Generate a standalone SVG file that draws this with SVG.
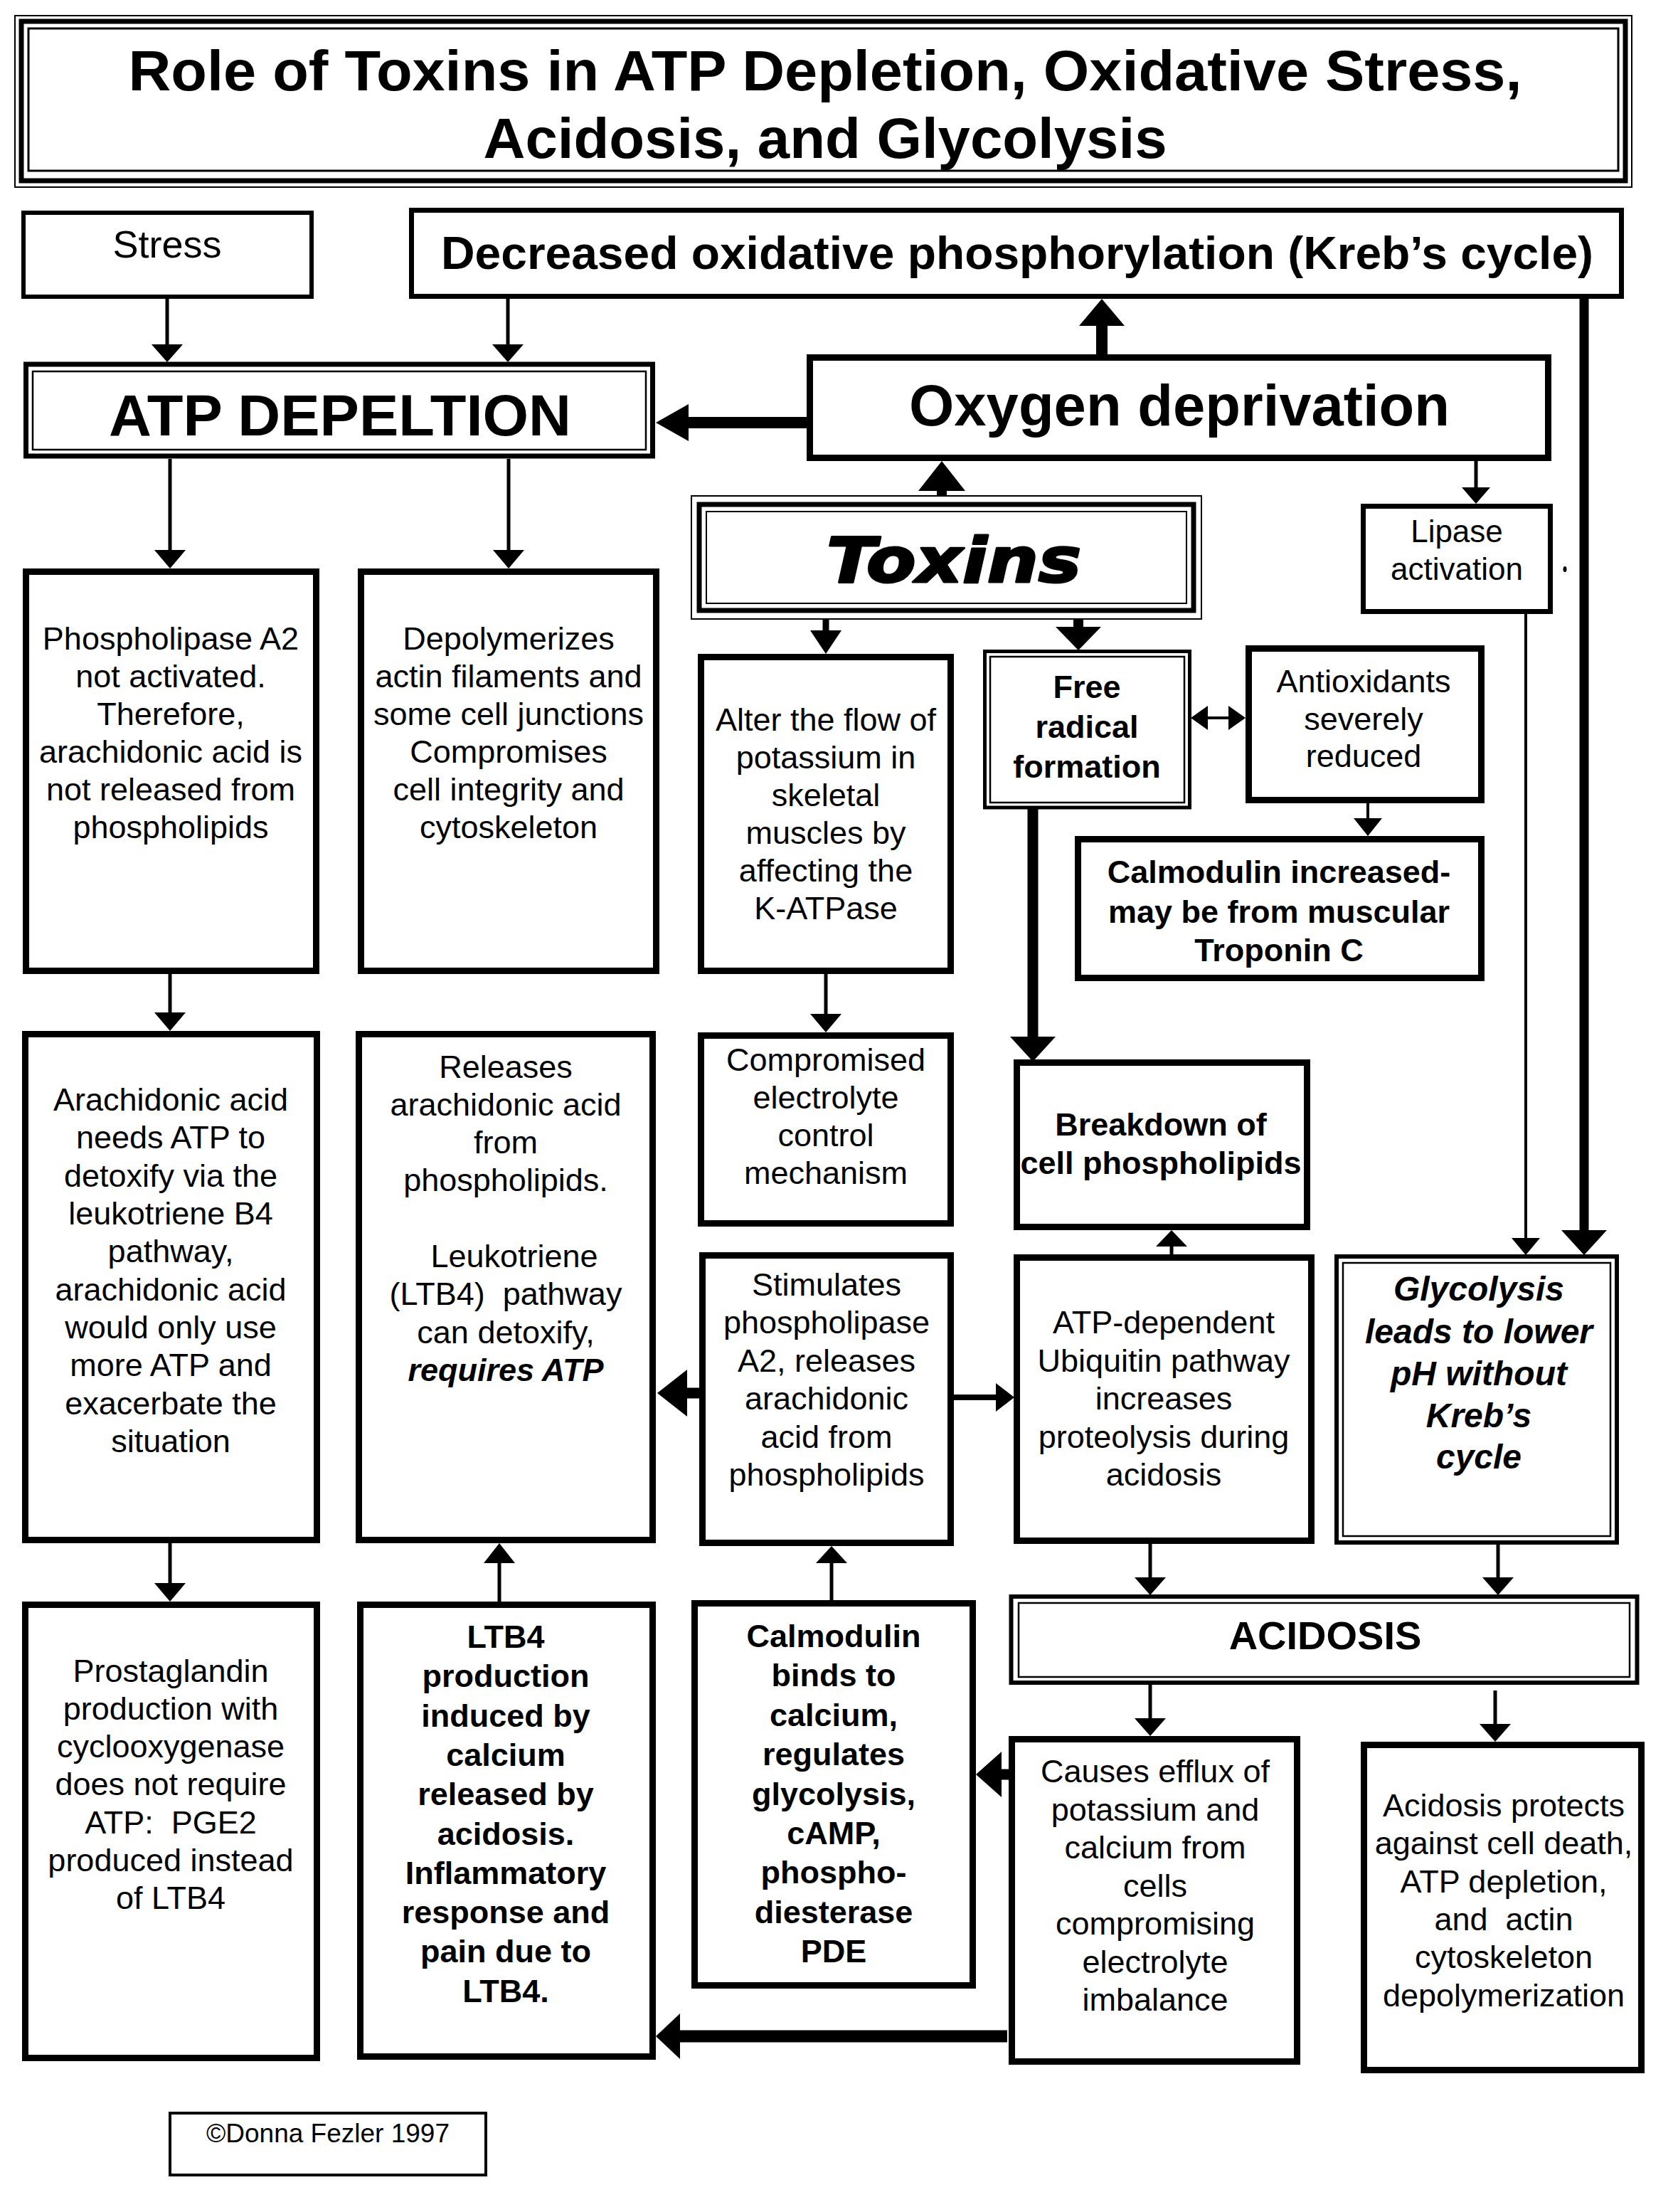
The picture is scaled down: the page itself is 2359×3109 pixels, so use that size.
<svg xmlns="http://www.w3.org/2000/svg" width="2359" height="3109" viewBox="0 0 2359 3109">
<style>
.bg{fill:#fff}
.box{fill:#fff;stroke:#000;stroke-width:9}
.thin{fill:none;stroke:#000;stroke-width:2.5}
.t{font-family:"Liberation Sans",Arial,sans-serif;font-size:45px;text-anchor:middle;fill:#000}
.b{font-weight:bold}
.i{font-style:italic}
.ln{stroke:#000;fill:none;stroke-width:5}
.hd{fill:#000;stroke:none}
</style>
<rect class="bg" x="0" y="0" width="2359" height="3109"/>

<g id="title">
<rect x="21" y="22" width="2273" height="241" fill="#fff" stroke="#000" stroke-width="2"/>
<rect x="30" y="30" width="2255" height="224" fill="none" stroke="#000" stroke-width="7"/>
<rect x="40" y="40" width="2235" height="200" fill="none" stroke="#000" stroke-width="3"/>
<text class="t b" style="font-size:80px"><tspan x="1160" y="127" textLength="1959" lengthAdjust="spacingAndGlyphs">Role of Toxins in ATP Depletion, Oxidative Stress,</tspan><tspan x="1160" y="222" textLength="961" lengthAdjust="spacingAndGlyphs">Acidosis, and Glycolysis</tspan></text>
</g>

<g id="stress">
<rect class="box" style="stroke-width:6" x="33" y="299" width="405" height="118"/>
<text class="t" style="font-size:54px" x="235" y="362">Stress</text>
</g>

<g id="decreased">
<rect class="box" style="stroke-width:7" x="578.5" y="295.5" width="1701" height="121"/>
<text class="t b" style="font-size:65px" x="1430" y="378" textLength="1620" lengthAdjust="spacingAndGlyphs">Decreased oxidative phosphorylation (Kreb’s cycle)</text>
</g>

<g id="atp-depletion">
<rect x="36.5" y="512" width="881" height="129" fill="#fff" stroke="#000" stroke-width="7"/>
<rect class="thin" x="46" y="522" width="862" height="110"/>
<text class="t b" style="font-size:81px" x="478" y="612" textLength="650" lengthAdjust="spacingAndGlyphs">ATP DEPELTION</text>
</g>

<g id="oxygen">
<rect class="box" x="1138.5" y="502.5" width="1038" height="141"/>
<text class="t b" style="font-size:81px" x="1658" y="598" textLength="760" lengthAdjust="spacingAndGlyphs">Oxygen deprivation</text>
</g>

<g id="toxins">
<rect x="972" y="697" width="717" height="173" fill="#fff" stroke="#000" stroke-width="2"/>
<rect x="983" y="709" width="695" height="149" fill="none" stroke="#000" stroke-width="7"/>
<rect x="993" y="719" width="675" height="129" fill="none" stroke="#000" stroke-width="2"/>
<text class="b i" style="font-family:'DejaVu Sans',Verdana,sans-serif;font-size:88px;stroke:#000;stroke-width:3;stroke-linejoin:round" x="1162" y="818" textLength="358" lengthAdjust="spacingAndGlyphs">Toxins</text>
</g>

<g id="lipase">
<rect class="box" style="stroke-width:7" x="1916.5" y="711.5" width="263" height="148"/>
<text class="t" style="font-size:44px"><tspan x="2048" y="762">Lipase</tspan><tspan x="2048" y="815">activation</tspan></text>
</g>
<ellipse cx="2200" cy="800" rx="2.5" ry="4" fill="#000"/>

<g id="phospholipase">
<rect class="box" x="36.5" y="803.5" width="408" height="561"/>
<text class="t"><tspan x="240" y="913">Phospholipase A2</tspan><tspan x="240" y="966">not activated.</tspan><tspan x="240" y="1019">Therefore,</tspan><tspan x="240" y="1072">arachidonic acid is</tspan><tspan x="240" y="1125">not released from</tspan><tspan x="240" y="1178">phospholipids</tspan></text>
</g>

<g id="depolymerizes">
<rect class="box" x="507.5" y="803.5" width="415" height="561"/>
<text class="t"><tspan x="715" y="913">Depolymerizes</tspan><tspan x="715" y="966">actin filaments and</tspan><tspan x="715" y="1019">some cell junctions</tspan><tspan x="715" y="1072">Compromises</tspan><tspan x="715" y="1125">cell integrity and</tspan><tspan x="715" y="1178">cytoskeleton</tspan></text>
</g>

<g id="alter">
<rect class="box" x="985.5" y="923.5" width="351" height="441"/>
<text class="t"><tspan x="1161" y="1027">Alter the flow of</tspan><tspan x="1161" y="1080">potassium in</tspan><tspan x="1161" y="1133">skeletal</tspan><tspan x="1161" y="1186">muscles by</tspan><tspan x="1161" y="1239">affecting the</tspan><tspan x="1161" y="1292">K-ATPase</tspan></text>
</g>

<g id="free-radical">
<rect x="1384.5" y="915.5" width="288" height="219.5" fill="#fff" stroke="#000" stroke-width="5"/>
<rect class="thin" x="1392" y="923" width="273" height="205"/>
<text class="t b"><tspan x="1528" y="981">Free</tspan><tspan x="1528" y="1037">radical</tspan><tspan x="1528" y="1093">formation</tspan></text>
</g>

<g id="antioxidants">
<rect class="box" x="1755.5" y="911.5" width="327" height="213"/>
<text class="t"><tspan x="1917" y="973">Antioxidants</tspan><tspan x="1917" y="1026">severely</tspan><tspan x="1917" y="1078">reduced</tspan></text>
</g>

<g id="calmodulin-increased">
<rect class="box" x="1515.5" y="1179.5" width="567" height="195"/>
<text class="t b"><tspan x="1798" y="1241">Calmodulin increased-</tspan><tspan x="1798" y="1297">may be from muscular</tspan><tspan x="1798" y="1351">Troponin C</tspan></text>
</g>

<g id="arachidonic">
<rect class="box" x="35.5" y="1453.5" width="410" height="711"/>
<text class="t"><tspan x="240" y="1561">Arachidonic acid</tspan><tspan x="240" y="1614">needs ATP to</tspan><tspan x="240" y="1668">detoxify via the</tspan><tspan x="240" y="1721">leukotriene B4</tspan><tspan x="240" y="1774">pathway,</tspan><tspan x="240" y="1828">arachidonic acid</tspan><tspan x="240" y="1881">would only use</tspan><tspan x="240" y="1934">more ATP and</tspan><tspan x="240" y="1988">exacerbate the</tspan><tspan x="240" y="2041">situation</tspan></text>
</g>

<g id="releases">
<rect class="box" x="504.5" y="1453.5" width="413" height="711"/>
<text class="t" xml:space="preserve"><tspan x="711" y="1515">Releases</tspan><tspan x="711" y="1568">arachidonic acid</tspan><tspan x="711" y="1621">from</tspan><tspan x="711" y="1674">phospholipids.</tspan><tspan x="723" y="1781">Leukotriene</tspan><tspan x="711" y="1834">(LTB4)  pathway</tspan><tspan x="711" y="1888">can detoxify,</tspan><tspan x="711" y="1941" font-weight="bold" font-style="italic">requires ATP</tspan></text>
</g>

<g id="compromised">
<rect class="box" x="985.5" y="1455.5" width="351" height="264"/>
<text class="t"><tspan x="1161" y="1505">Compromised</tspan><tspan x="1161" y="1558">electrolyte</tspan><tspan x="1161" y="1611">control</tspan><tspan x="1161" y="1664">mechanism</tspan></text>
</g>

<g id="breakdown">
<rect class="box" x="1429.5" y="1493.5" width="408" height="231"/>
<text class="t b"><tspan x="1632" y="1596">Breakdown of</tspan><tspan x="1632" y="1650">cell phospholipids</tspan></text>
</g>

<g id="stimulates">
<rect class="box" x="987.5" y="1764.5" width="349" height="404"/>
<text class="t"><tspan x="1162" y="1821">Stimulates</tspan><tspan x="1162" y="1874">phospholipase</tspan><tspan x="1162" y="1928">A2, releases</tspan><tspan x="1162" y="1981">arachidonic</tspan><tspan x="1162" y="2035">acid from</tspan><tspan x="1162" y="2088">phospholipids</tspan></text>
</g>

<g id="atp-dependent">
<rect class="box" x="1429.5" y="1767.5" width="414" height="398"/>
<text class="t"><tspan x="1636" y="1874">ATP-dependent</tspan><tspan x="1636" y="1928">Ubiquitin pathway</tspan><tspan x="1636" y="1981">increases</tspan><tspan x="1636" y="2035">proteolysis during</tspan><tspan x="1636" y="2088">acidosis</tspan></text>
</g>

<g id="glycolysis">
<rect x="1879" y="1766" width="394" height="402" fill="#fff" stroke="#000" stroke-width="6"/>
<rect class="thin" x="1888" y="1775" width="376" height="384"/>
<text class="t b i" style="font-size:48px"><tspan x="2079" y="1828">Glycolysis</tspan><tspan x="2079" y="1888">leads to lower</tspan><tspan x="2079" y="1947">pH without</tspan><tspan x="2079" y="2006">Kreb’s</tspan><tspan x="2079" y="2064">cycle</tspan></text>
</g>

<g id="prostaglandin">
<rect class="box" x="35.5" y="2255.5" width="410" height="637"/>
<text class="t" xml:space="preserve"><tspan x="240" y="2364">Prostaglandin</tspan><tspan x="240" y="2417">production with</tspan><tspan x="240" y="2470">cyclooxygenase</tspan><tspan x="240" y="2523">does not require</tspan><tspan x="240" y="2577">ATP:  PGE2</tspan><tspan x="240" y="2630">produced instead</tspan><tspan x="240" y="2683">of LTB4</tspan></text>
</g>

<g id="ltb4">
<rect class="box" x="506.5" y="2255.5" width="411" height="635"/>
<text class="t b"><tspan x="711" y="2316">LTB4</tspan><tspan x="711" y="2371">production</tspan><tspan x="711" y="2427">induced by</tspan><tspan x="711" y="2482">calcium</tspan><tspan x="711" y="2537">released by</tspan><tspan x="711" y="2593">acidosis.</tspan><tspan x="711" y="2648">Inflammatory</tspan><tspan x="711" y="2703">response and</tspan><tspan x="711" y="2758">pain due to</tspan><tspan x="711" y="2814">LTB4.</tspan></text>
</g>

<g id="calmodulin-binds">
<rect class="box" x="976.5" y="2253.5" width="391" height="537"/>
<text class="t b"><tspan x="1172" y="2315">Calmodulin</tspan><tspan x="1172" y="2370">binds to</tspan><tspan x="1172" y="2426">calcium,</tspan><tspan x="1172" y="2481">regulates</tspan><tspan x="1172" y="2537">glycolysis,</tspan><tspan x="1172" y="2592">cAMP,</tspan><tspan x="1172" y="2647">phospho-</tspan><tspan x="1172" y="2703">diesterase</tspan><tspan x="1172" y="2758">PDE</tspan></text>
</g>

<g id="acidosis">
<rect x="1421.5" y="2244" width="880" height="121" fill="#fff" stroke="#000" stroke-width="6"/>
<rect class="thin" x="1432" y="2253" width="859" height="104"/>
<text class="t b" style="font-size:56px" x="1863" y="2318">ACIDOSIS</text>
</g>

<g id="causes">
<rect class="box" x="1422.5" y="2444.5" width="401" height="453"/>
<text class="t"><tspan x="1624" y="2505">Causes efflux of</tspan><tspan x="1624" y="2559">potassium and</tspan><tspan x="1624" y="2612">calcium from</tspan><tspan x="1624" y="2666">cells</tspan><tspan x="1624" y="2719">compromising</tspan><tspan x="1624" y="2773">electrolyte</tspan><tspan x="1624" y="2826">imbalance</tspan></text>
</g>

<g id="acidosis-protects">
<rect class="box" x="1917.5" y="2452.5" width="390" height="457"/>
<text class="t" xml:space="preserve"><tspan x="2114" y="2553">Acidosis protects</tspan><tspan x="2114" y="2606">against cell death,</tspan><tspan x="2114" y="2660">ATP depletion,</tspan><tspan x="2114" y="2713">and  actin</tspan><tspan x="2114" y="2766">cytoskeleton</tspan><tspan x="2114" y="2820">depolymerization</tspan></text>
</g>

<g id="copyright">
<rect class="box" style="stroke-width:4" x="239" y="2970" width="444" height="87"/>
<text class="t" style="font-size:37px" x="461" y="3011">©Donna Fezler 1997</text>
</g>

<g id="connectors">
<line class="ln" x1="235" y1="420" x2="235" y2="488"/>
<polygon class="hd" points="213,484 257,484 235,509"/>
<line class="ln" x1="714" y1="420" x2="714" y2="488"/>
<polygon class="hd" points="692,484 736,484 714,509"/>
<line class="ln" style="stroke-width:16" x1="1136" y1="594" x2="960" y2="594"/>
<polygon class="hd" points="968,568 968,620 922,594"/>
<line class="ln" style="stroke-width:16" x1="1549" y1="500" x2="1549" y2="452"/>
<polygon class="hd" points="1517,458 1581,458 1549,420"/>
<line class="ln" style="stroke-width:14" x1="1324" y1="698" x2="1324" y2="686"/>
<polygon class="hd" points="1291,690 1357,690 1324,648"/>
<line class="ln" x1="2075" y1="648" x2="2075" y2="688"/>
<polygon class="hd" points="2055,685 2095,685 2075,708"/>
<line class="ln" style="stroke-width:13" x1="2227" y1="418" x2="2227" y2="1732"/>
<polygon class="hd" points="2195,1729 2259,1729 2227,1764"/>
<line class="ln" style="stroke-width:4" x1="2145" y1="862" x2="2145" y2="1743"/>
<polygon class="hd" points="2125,1740 2165,1740 2145,1764"/>
<line class="ln" x1="239" y1="645" x2="239" y2="777"/>
<polygon class="hd" points="217,773 261,773 239,799"/>
<line class="ln" x1="715" y1="645" x2="715" y2="777"/>
<polygon class="hd" points="693,773 737,773 715,799"/>
<line class="ln" style="stroke-width:9" x1="1161" y1="870" x2="1161" y2="890"/>
<polygon class="hd" points="1139,886 1183,886 1161,919"/>
<line class="ln" style="stroke-width:14" x1="1516" y1="870" x2="1516" y2="884"/>
<polygon class="hd" points="1484,881 1548,881 1516,914"/>
<line class="ln" style="stroke-width:4" x1="1695" y1="1009" x2="1730" y2="1009"/>
<polygon class="hd" points="1698,992 1698,1026 1674,1009"/>
<polygon class="hd" points="1727,992 1727,1026 1751,1009"/>
<line class="ln" style="stroke-width:4" x1="1923" y1="1129" x2="1923" y2="1152"/>
<polygon class="hd" points="1903,1150 1943,1150 1923,1175"/>
<line class="ln" style="stroke-width:15" x1="1452" y1="1136" x2="1452" y2="1462"/>
<polygon class="hd" points="1420,1457 1484,1457 1452,1492"/>
<line class="ln" x1="239" y1="1369" x2="239" y2="1427"/>
<polygon class="hd" points="217,1423 261,1423 239,1449"/>
<line class="ln" x1="1161" y1="1369" x2="1161" y2="1429"/>
<polygon class="hd" points="1139,1425 1183,1425 1161,1451"/>
<line class="ln" x1="1647" y1="1764" x2="1647" y2="1748"/>
<polygon class="hd" points="1625,1752 1669,1752 1647,1729"/>
<line class="ln" style="stroke-width:15" x1="985" y1="1958" x2="960" y2="1958"/>
<polygon class="hd" points="966,1925 966,1991 924,1958"/>
<line class="ln" style="stroke-width:8" x1="1340" y1="1964" x2="1404" y2="1964"/>
<polygon class="hd" points="1400,1944 1400,1984 1426,1964"/>
<line class="ln" x1="239" y1="2169" x2="239" y2="2229"/>
<polygon class="hd" points="217,2225 261,2225 239,2251"/>
<line class="ln" x1="702" y1="2252" x2="702" y2="2193"/>
<polygon class="hd" points="680,2197 724,2197 702,2169"/>
<line class="ln" x1="1169" y1="2250" x2="1169" y2="2193"/>
<polygon class="hd" points="1147,2197 1191,2197 1169,2173"/>
<line class="ln" x1="1617" y1="2170" x2="1617" y2="2221"/>
<polygon class="hd" points="1595,2217 1639,2217 1617,2242"/>
<line class="ln" x1="2106" y1="2171" x2="2106" y2="2221"/>
<polygon class="hd" points="2084,2217 2128,2217 2106,2242"/>
<line class="ln" x1="1617" y1="2367" x2="1617" y2="2419"/>
<polygon class="hd" points="1595,2415 1639,2415 1617,2440"/>
<line class="ln" x1="2102" y1="2376" x2="2102" y2="2427"/>
<polygon class="hd" points="2080,2423 2124,2423 2102,2448"/>
<line class="ln" style="stroke-width:15" x1="1420" y1="2494" x2="1404" y2="2494"/>
<polygon class="hd" points="1408,2462 1408,2526 1372,2494"/>
<line class="ln" style="stroke-width:17" x1="1416" y1="2862" x2="950" y2="2862"/>
<polygon class="hd" points="956,2830 956,2894 922,2862"/>
</g>
</svg>
